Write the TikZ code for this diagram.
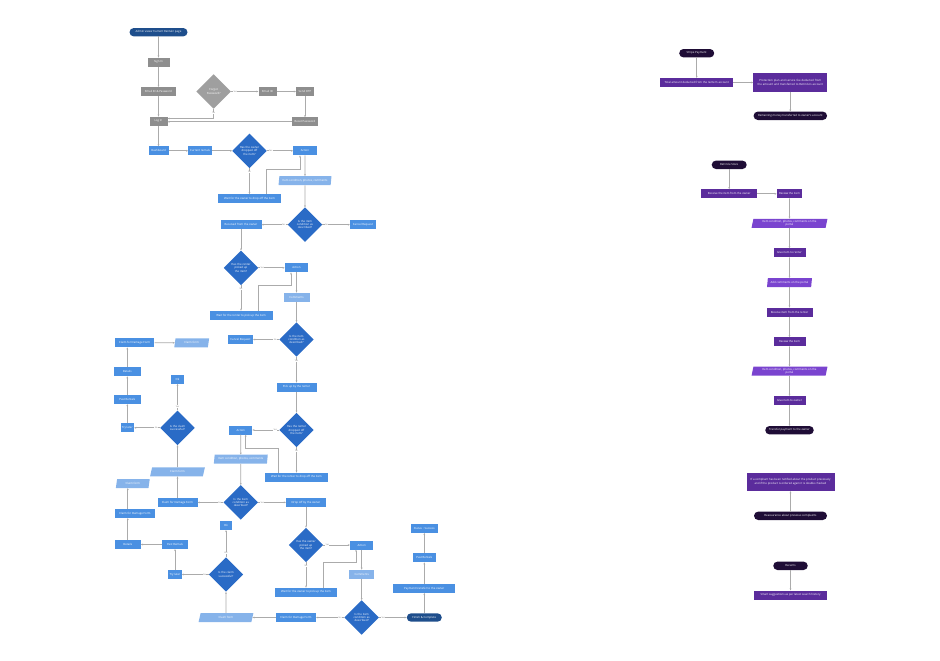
\documentclass[tikz,border=0pt]{standalone}
\usepackage{fontspec}
\setsansfont{Open Sans}
\usepackage{tikz}
\usetikzlibrary{shapes.geometric, arrows.meta}

\definecolor{navy}{HTML}{1E4E8C}
\definecolor{boxgray}{HTML}{8E8E8E}
\definecolor{boxblue}{HTML}{4A90E2}
\definecolor{lightblue}{HTML}{86B3EA}
\definecolor{decblue}{HTML}{2A6BC6}
\definecolor{purplebox}{HTML}{5B2C9C}
\definecolor{purplepara}{HTML}{7A44CF}
\definecolor{darkpill}{HTML}{1F0D36}
\definecolor{linegray}{HTML}{ABABAB}

\tikzset{
  txt/.style={font=\sffamily\fontsize{8}{9}\selectfont, text=white, inner sep=1pt, align=center, minimum height=0.9cm},
  gbox/.style={txt, rectangle, fill=boxgray},
  bbox/.style={txt, rectangle, fill=boxblue},
  lbox/.style={txt, rectangle, fill=lightblue},
  lpara/.style={txt, trapezium, trapezium left angle=78, trapezium right angle=102, trapezium stretches=true, fill=lightblue},
  pill/.style={txt, rectangle, rounded corners=0.42cm, minimum height=0.84cm, fill=navy},
  dec/.style={txt, diamond, aspect=1, minimum size=3.45cm, inner sep=0pt, text width=2.3cm, fill=decblue},
  gdec/.style={dec, fill=boxgray!85!white},
  pbox/.style={txt, rectangle, fill=purplebox},
  ppara/.style={lpara, fill=purplepara},
  ppill/.style={pill, fill=darkpill},
  conn/.style={draw=linegray, line width=1.8pt, -{Stealth[length=6pt, width=5pt]}},
  lab/.style={font=\sffamily\fontsize{6}{7}\selectfont, text=gray, fill=white, inner sep=1pt},
}

\begin{document}
\begin{tikzpicture}[x=0.1cm, y=-0.1cm]
\useasboundingbox (0,0) rectangle (940,660);

% sign in
\node[pill, minimum width=5.8cm] (admin) at (158.5,32.2) {Admin views ‘Current Rentals’ page};
\node[gbox, minimum width=2.2cm] (signin) at (158.5,62.2) {Sign In};
\node[gbox, minimum width=3.5cm] (email) at (158.5,91.5) {Email ID \& Password};
\node[gdec] (forgot) at (213.7,91.5) {Forgot\\Password?};
\node[gbox, minimum width=1.8cm] (emailid) at (267.5,91.5) {Email ID};
\node[gbox, minimum width=1.8cm] (otp) at (305,91.5) {Send OTP};
\node[gbox, minimum width=2.6cm] (reset) at (305,121.8) {Reset Password};
\node[gbox, minimum width=1.8cm] (login) at (158.5,121.2) {Log In};

\draw[conn] (admin) -- (signin);
\draw[conn] (signin) -- (email);
\draw[conn] (email) -- (login);
\draw[conn] (forgot) -- node[lab, pos=0.15] {Yes} (emailid);
\draw[conn] (emailid) -- (otp);
\draw[conn] (otp) -- (reset);
\draw[conn] (reset.west) -- (reset.west -| login.east);
\draw[conn] (forgot.south) |- node[lab, pos=0.22] {No} ([yshift=0.27cm]login.east);

% owner drops off, renter picks up
\node[bbox, minimum width=2cm] (dash) at (158.5,150.8) {Dashboard};
\node[bbox, minimum width=2.35cm] (current) at (200,150.8) {Current rentals};
\node[dec] (ownerdrop) at (249.5,150.8) {Has the owner dropped off the item?};
\node[bbox, minimum width=2.35cm] (act1) at (305,150.8) {Action};
\node[bbox, minimum width=6.3cm] (waitdrop) at (249.5,198.7) {Wait for the owner to drop off the item};
\node[lpara, minimum width=5.3cm] (cond1) at (305,180.7) {Item condition, photos, comments};
\node[dec] (desc1) at (305,224.7) {Is the item condition as described?};
\node[bbox, minimum width=2.6cm] (cancel1) at (363,224.7) {Cancel Request};
\node[bbox, minimum width=4.1cm] (received) at (241,224.7) {Received from the owner};
\node[dec] (renterpick) at (241,267.8) {Has the renter picked up the item?};
\node[bbox, minimum width=2.35cm] (act2) at (296.5,267.8) {Action};
\node[bbox, minimum width=6.3cm] (waitpick) at (241,315.3) {Wait for the renter to pick up the item};
\node[lbox, minimum width=2.6cm] (comm1) at (296.5,297.2) {Comments};
\node[dec] (desc2) at (296.5,339.5) {Is the item condition as described?};
\node[bbox, minimum width=2.5cm] (cancel2) at (240.5,339.5) {Cancel Request};
\node[bbox, minimum width=4cm] (pickup) at (296.5,387.2) {Pick up by the renter};

\draw[conn] (login) -- (dash);
\draw[conn] (dash) -- (current);
\draw[conn] (current) -- (ownerdrop);
\draw[conn] (ownerdrop) -- node[lab, pos=0.15] {Yes} (act1);
\draw[conn] (ownerdrop) -- node[lab, pos=0.15] {No} (waitdrop);
\draw[conn] ([xshift=1.7cm]waitdrop.north) -- ++(0,-24.7) -| ([xshift=-0.5cm]act1.south);
\draw[conn] (act1) -- (cond1);
\draw[conn] (cond1) -- (desc1);
\draw[conn] (desc1) -- node[lab, pos=0.15] {No} (cancel1);
\draw[conn] (desc1) -- node[lab, pos=0.15] {Yes} (received);
\draw[conn] (received) -- (renterpick);
\draw[conn] (renterpick) -- node[lab, pos=0.15] {Yes} (act2);
\draw[conn] (renterpick) -- node[lab, pos=0.15] {No} (waitpick);
\draw[conn] ([xshift=1.73cm]waitpick.north) -- ++(0,-25) -| ([xshift=-0.55cm]act2.south);
\draw[conn] (act2) -- (comm1);
\draw[conn] (comm1) -- (desc2);
\draw[conn] (desc2) -- node[lab, pos=0.15] {No} (cancel2);
\draw[conn] (desc2) -- node[lab, pos=0.15] {Yes} (pickup);

% renter drops off, owner picks up
\node[dec] (renterdrop) at (296.5,430) {Has the renter dropped off the item?};
\node[bbox, minimum width=2.3cm] (act3) at (240.8,430) {Action};
\node[bbox, minimum width=6.3cm] (waitdrop2) at (296.5,477.2) {Wait for the renter to drop off the item};
\node[lpara, minimum width=5.4cm] (cond2) at (240.8,459.2) {Item condition, photos, comments};
\node[dec] (desc3) at (240.8,502.4) {Is the item condition as described?};
\node[bbox, minimum width=4cm] (damage1) at (177.5,502.4) {Claim for Damage Form};
\node[bbox, minimum width=4cm] (dropoff) at (306,502.4) {Drop off by the owner};
\node[dec] (ownerpick) at (306,545) {Has the owner picked up the item?};
\node[bbox, minimum width=2.35cm] (act4) at (361.7,545) {Action};
\node[bbox, minimum width=6.2cm] (waitpick2) at (306,592.2) {Wait for the owner to pick up the item};
\node[lbox, minimum width=2.55cm] (comm2) at (361.7,574.2) {Comments};
\node[dec] (desc4) at (361.7,617.5) {Is the item condition as described?};
\node[bbox, minimum width=4cm] (damage2) at (296,617.5) {Claim for Damage Form};
\node[pill, minimum width=3.5cm] (finish) at (424.3,617.5) {Finish \& Complete};
\node[bbox, minimum width=6.2cm] (payment) at (424.3,588.3) {Payment transfer to the owner};
\node[bbox, minimum width=2.35cm] (past3) at (424.3,557.8) {Past Rentals};
\node[bbox, minimum width=2.7cm] (status) at (424.3,528.3) {Status : Success};

\draw[conn] (pickup) -- (renterdrop);
\draw[conn] (renterdrop) -- node[lab, pos=0.15] {Yes} (act3);
\draw[conn] (renterdrop) -- node[lab, pos=0.15] {No} (waitdrop2);
\draw[conn] ([xshift=-1.82cm]waitdrop2.north) -- ++(0,-24.4) -| ([xshift=0.49cm]act3.south);
\draw[conn] (act3) -- (cond2);
\draw[conn] (cond2) -- (desc3);
\draw[conn] (desc3) -- node[lab, pos=0.15] {No} (damage1);
\draw[conn] (desc3) -- node[lab, pos=0.15] {Yes} (dropoff);
\draw[conn] (dropoff) -- (ownerpick);
\draw[conn] (ownerpick) -- node[lab, pos=0.15] {Yes} (act4);
\draw[conn] (ownerpick) -- node[lab, pos=0.15] {No} (waitpick2);
\draw[conn] ([xshift=1.73cm]waitpick2.north) -- ++(0,-25.4) -| ([xshift=-0.57cm]act4.south);
\draw[conn] (act4) -- (comm2);
\draw[conn] (comm2) -- (desc4);
\draw[conn] (desc4) -- node[lab, pos=0.15] {No} (damage2);
\draw[conn] (desc4) -- node[lab, pos=0.15] {Yes} (finish);
\draw[conn] (finish) -- (payment);
\draw[conn] (payment) -- (past3);
\draw[conn] (past3) -- (status);

% damage claims
\node[lpara, minimum width=5.5cm] (claim3) at (226,617.5) {Claim form};
\node[dec] (success2) at (226,574.5) {Is the claim successful?};
\node[bbox, minimum width=1.2cm] (ok2) at (226,525.5) {Ok};
\node[bbox, minimum width=1.35cm] (try2) at (175,574.5) {Try later};
\node[bbox, minimum width=2.6cm] (past2) at (175,544.5) {Past Rentals};
\node[bbox, minimum width=2.6cm] (details2) at (127.8,544.5) {Details};
\node[bbox, minimum width=4cm] (damage3) at (135,513.5) {Claim for Damage Form};
\node[lpara, minimum width=3.4cm] (claim2) at (132.8,483.5) {Claim form};

\node[lpara, minimum width=5.5cm] (claim1) at (177.5,471.8) {Claim form};
\node[dec] (success1) at (177.5,427.8) {Is the claim successful?};
\node[bbox, minimum width=1.3cm] (ok1) at (177.5,379.2) {Ok};
\node[bbox, minimum width=1.35cm] (try1) at (127.3,427.8) {Try later};
\node[bbox, minimum width=2.7cm] (past1) at (127.3,399.5) {Past Rentals};
\node[bbox, minimum width=2.7cm] (details1) at (127.3,371.7) {Details};
\node[bbox, minimum width=3.95cm] (damage4) at (134.7,342.8) {Claim for Damage Form};
\node[lpara, minimum width=3.5cm] (claim4) at (191.7,342.8) {Claim form};

\draw[conn] (damage2) -- (claim3);
\draw[conn] (claim3) -- (success2);
\draw[conn] (success2) -- node[lab, pos=0.15] {Yes} (ok2);
\draw[conn] (success2) -- node[lab, pos=0.15] {No} (try2);
\draw[conn] (try2) -- (past2);
\draw[conn] (past2) -- (details2);
\draw[conn] (details2) -- (details2.north |- damage3.south);
\draw[conn] (details2.north |- damage3.north) -- (details2.north |- claim2.south);

\draw[conn] (damage1) -- (claim1);
\draw[conn] (claim1) -- (success1);
\draw[conn] (success1) -- node[lab, pos=0.15] {Yes} (ok1);
\draw[conn] (success1) -- node[lab, pos=0.15] {No} (try1);
\draw[conn] (try1) -- (past1);
\draw[conn] (past1) -- (details1);
\draw[conn] (details1) -- (details1.north |- damage4.south);
\draw[conn] (damage4) -- (claim4);

% payment
\node[ppill, minimum width=3.5cm] (stripe) at (696.7,53.2) {Stripe Payment};
\node[pbox, minimum width=7.3cm] (total) at (696.7,82.5) {Total amount deducted from the renter's account};
\node[pbox, minimum width=7.4cm, minimum height=1.85cm, text width=7.2cm] (fee) at (790.3,82.5) {Protection plan and service fee deducted from\\the amount and transferred to ReCircle's account};
\node[ppill, minimum width=7.35cm] (remaining) at (790.3,115.8) {Remaining money transferred to owner's account};

\draw[conn] (stripe) -- (total);
\draw[conn] (total) -- (fee);
\draw[conn] (fee) -- (remaining);

% store
\node[ppill, minimum width=3.5cm] (store) at (729.2,164.8) {ReCircle Store};
\node[pbox, minimum width=5.6cm] (receiveowner) at (729.2,193.8) {Receive the item from the owner};
\node[pbox, minimum width=2.55cm] (review1) at (789.5,193.8) {Review the item};
\node[ppara, minimum width=7.6cm] (portal1) at (789.5,223.3) {Item condition, photos, comments on the\\portal};
\node[pbox, minimum width=3.2cm] (giverenter) at (789.5,252.8) {Give item to renter};
\node[ppara, minimum width=4.5cm] (addcomm) at (789.5,282.5) {Add comments on the portal};
\node[pbox, minimum width=4.6cm] (receiverenter) at (789.5,312.2) {Receive item from the renter};
\node[pbox, minimum width=3.2cm] (review2) at (789.5,341.7) {Review the item};
\node[ppara, minimum width=7.6cm] (portal2) at (789.5,371.2) {Item condition, photos, comments on the\\portal};
\node[pbox, minimum width=3.2cm] (giveowner) at (789.5,400.5) {Give item to owner};
\node[ppill, minimum width=4.85cm] (transfer) at (789.5,430.2) {Transfer payment to the owner};

\draw[conn] (store) -- (receiveowner);
\draw[conn] (receiveowner) -- (review1);
\draw[conn] (review1) -- (portal1);
\draw[conn] (portal1) -- (giverenter);
\draw[conn] (giverenter) -- (addcomm);
\draw[conn] (addcomm) -- (receiverenter);
\draw[conn] (receiverenter) -- (review2);
\draw[conn] (review2) -- (portal2);
\draw[conn] (portal2) -- (giveowner);
\draw[conn] (giveowner) -- (transfer);

% complaints and recents
\node[pbox, minimum width=8.8cm, minimum height=1.85cm] (complaint) at (790.5,481.8) {If a compliant has been notified about the product previously\\and if the product is ordered again it is double checked};
\node[ppill, minimum width=7.3cm] (reassure) at (790.5,515.8) {Reassurance about previous complaints};
\node[ppill, minimum width=3.45cm] (recents) at (790.5,565.8) {Recents};
\node[pbox, minimum width=7.3cm] (smart) at (790.5,595) {Smart suggestions as per latest search history};

\draw[conn] (reassure) -- (complaint);
\draw[conn] (recents) -- (smart);

\end{tikzpicture}
\end{document}
